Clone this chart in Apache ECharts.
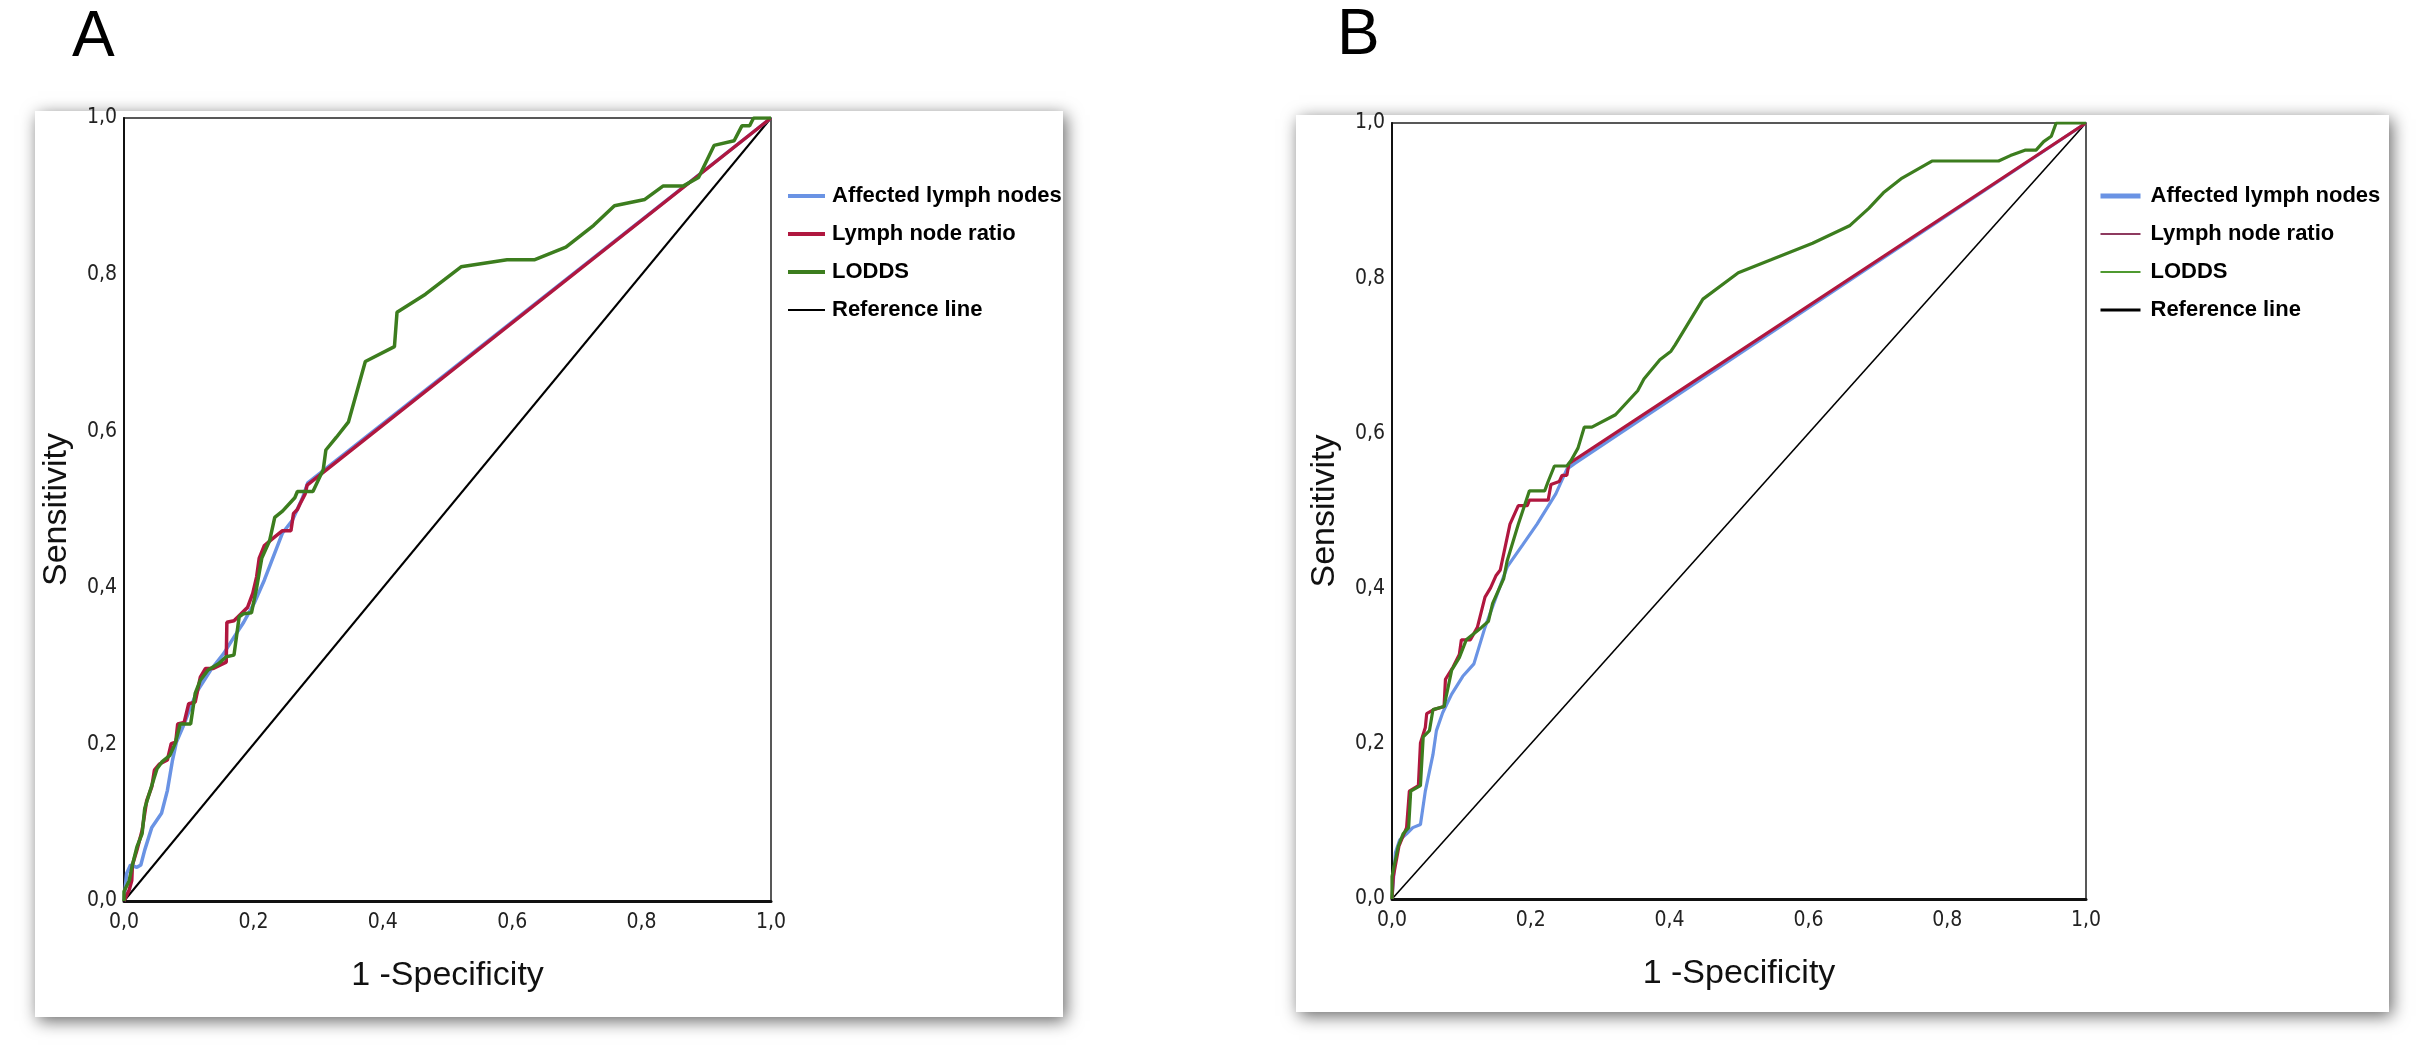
<!DOCTYPE html>
<html>
<head>
<meta charset="utf-8">
<script src="https://cdn.jsdelivr.net/npm/echarts@6/dist/echarts.min.js"></script>
<style>
html,body{margin:0;padding:0;background:#fff;}
#chart{width:2418px;height:1050px;}
</style>
</head>
<body>
<div id="chart"></div>
<script>
// ---------- data ----------
const seriesNames = ['Affected lymph nodes', 'Lymph node ratio', 'LODDS', 'Reference line'];
const tickValues = [0, 0.2, 0.4, 0.6, 0.8, 1.0];
const panelLabels = ['A', 'B'];
const xTitle = '1 -Specificity';
const yTitle = 'Sensitivity';

// Panel A
const aBlue = [[0,0],[0.004,0.035],[0.01,0.046],[0.02,0.043],[0.026,0.046],[0.032,0.065],[0.043,0.094],[0.058,0.112],[0.067,0.141],[0.075,0.18],[0.081,0.203],[0.091,0.222],[0.103,0.248],[0.114,0.269],[0.134,0.295],[0.154,0.316],[0.17,0.337],[0.185,0.356],[0.201,0.38],[0.217,0.41],[0.245,0.47],[0.26,0.486],[0.276,0.515],[0.284,0.534],[1,1]];
const aRed = [[0,0],[0.008,0.014],[0.012,0.026],[0.013,0.046],[0.02,0.065],[0.028,0.09],[0.035,0.128],[0.043,0.146],[0.047,0.167],[0.055,0.175],[0.067,0.18],[0.073,0.201],[0.08,0.203],[0.083,0.226],[0.093,0.228],[0.1,0.252],[0.11,0.254],[0.118,0.286],[0.126,0.297],[0.138,0.297],[0.158,0.305],[0.159,0.356],[0.17,0.358],[0.181,0.367],[0.191,0.375],[0.199,0.393],[0.205,0.414],[0.209,0.438],[0.217,0.454],[0.233,0.465],[0.245,0.473],[0.258,0.473],[0.262,0.495],[0.268,0.5],[0.272,0.507],[0.28,0.52],[0.283,0.531],[1,1]];
const aGreen = [[0,0],[0,0.012],[0.008,0.026],[0.013,0.046],[0.02,0.069],[0.028,0.086],[0.032,0.118],[0.039,0.137],[0.051,0.169],[0.059,0.178],[0.071,0.186],[0.079,0.201],[0.087,0.226],[0.103,0.226],[0.11,0.265],[0.118,0.282],[0.13,0.295],[0.146,0.303],[0.158,0.312],[0.17,0.314],[0.178,0.363],[0.185,0.367],[0.197,0.368],[0.205,0.4],[0.213,0.438],[0.225,0.46],[0.233,0.49],[0.245,0.498],[0.264,0.515],[0.268,0.523],[0.292,0.523],[0.308,0.551],[0.312,0.576],[0.328,0.592],[0.347,0.612],[0.373,0.689],[0.418,0.708],[0.422,0.752],[0.466,0.775],[0.521,0.81],[0.592,0.819],[0.635,0.819],[0.683,0.835],[0.726,0.863],[0.758,0.888],[0.805,0.896],[0.833,0.913],[0.864,0.913],[0.888,0.924],[0.912,0.965],[0.943,0.971],[0.955,0.99],[0.967,0.99],[0.973,1],[1,1]];

// Panel B
const bBlue = [[0,0],[0.005,0.06],[0.011,0.076],[0.021,0.084],[0.03,0.092],[0.041,0.096],[0.048,0.139],[0.059,0.186],[0.064,0.217],[0.073,0.24],[0.086,0.264],[0.102,0.287],[0.118,0.303],[0.134,0.35],[0.15,0.389],[0.166,0.428],[0.188,0.456],[0.209,0.483],[0.236,0.522],[0.252,0.554],[0.263,0.561],[1,1]];
const bRed = [[0,0],[0.002,0.029],[0.01,0.068],[0.021,0.092],[0.025,0.139],[0.038,0.146],[0.041,0.201],[0.048,0.221],[0.05,0.239],[0.06,0.244],[0.075,0.248],[0.077,0.283],[0.088,0.299],[0.097,0.315],[0.1,0.334],[0.113,0.334],[0.123,0.35],[0.134,0.389],[0.142,0.401],[0.15,0.417],[0.156,0.424],[0.17,0.483],[0.182,0.507],[0.195,0.507],[0.198,0.514],[0.225,0.514],[0.229,0.534],[0.241,0.538],[0.245,0.546],[0.252,0.546],[0.255,0.561],[1,1]];
const bGreen = [[0,0],[0,0.029],[0.009,0.068],[0.016,0.084],[0.024,0.092],[0.027,0.139],[0.041,0.146],[0.045,0.209],[0.054,0.217],[0.059,0.244],[0.075,0.248],[0.086,0.295],[0.097,0.311],[0.107,0.334],[0.129,0.35],[0.139,0.358],[0.145,0.381],[0.161,0.413],[0.166,0.436],[0.182,0.483],[0.198,0.526],[0.22,0.526],[0.225,0.538],[0.234,0.558],[0.252,0.558],[0.258,0.565],[0.268,0.581],[0.277,0.608],[0.288,0.608],[0.322,0.624],[0.354,0.655],[0.363,0.67],[0.386,0.695],[0.402,0.706],[0.408,0.714],[0.448,0.773],[0.499,0.807],[0.547,0.824],[0.606,0.845],[0.66,0.868],[0.687,0.89],[0.708,0.91],[0.735,0.929],[0.778,0.951],[0.874,0.951],[0.891,0.958],[0.912,0.965],[0.928,0.965],[0.939,0.976],[0.95,0.983],[0.957,1],[1,1]];

const refLine = [[0,0],[1,1]];

// ---------- styling ----------
const C_BLUE = '#6a93e4', C_RED = '#b0173f', C_GREEN = '#3c7d1e', C_BLACK = '#000000';
const C_RED_B = '#8e3a5f', C_GREEN_B = '#4f9a30';
const tickFont = "'Liberation Sans Narrow','DejaVu Sans Condensed','Liberation Sans',sans-serif";
const mainFont = "'Liberation Sans',Arial,sans-serif";
const fmt = v => v.toFixed(1).replace('.', ',');

const grids = [
  {left: 124, top: 118, width: 647, height: 783},
  {left: 1392, top: 123, width: 694, height: 776}
];

function xAxisFor(i) {
  return {
    gridIndex: i, type: 'value', min: 0, max: 1, interval: 0.2,
    axisLine: {show: true, onZero: false, lineStyle: {color: '#111', width: 3}},
    axisTick: {show: false}, splitLine: {show: false},
    axisLabel: {formatter: fmt, fontSize: 21, fontFamily: tickFont, color: '#222', margin: 11},
    name: xTitle, nameLocation: 'middle', nameGap: 58,
    nameTextStyle: {fontSize: 34, fontFamily: mainFont, color: '#111'}
  };
}
function yAxisFor(i) {
  return {
    gridIndex: i, type: 'value', min: 0, max: 1, interval: 0.2,
    axisLine: {show: true, onZero: false, lineStyle: {color: '#111', width: 2}},
    axisTick: {show: false}, splitLine: {show: false},
    axisLabel: {formatter: fmt, fontSize: 21, fontFamily: tickFont, color: '#222', margin: 7},
    name: yTitle, nameLocation: 'middle', nameGap: 50,
    nameTextStyle: {fontSize: 34, fontFamily: mainFont, color: '#111'}
  };
}
function lineSeries(name, data, gi, color, width, z) {
  return {
    name: name, type: 'line', xAxisIndex: gi, yAxisIndex: gi, data: data,
    symbol: 'none', smooth: false, silent: true, animation: false, z: z,
    lineStyle: {color: color, width: width}, itemStyle: {color: color}
  };
}
function legendItem(name, color, width) {
  return {name: name, lineStyle: {color: color, width: width}, itemStyle: {opacity: 0, color: 'rgba(0,0,0,0)', borderWidth: 0}};
}

const chart = echarts.init(document.getElementById('chart'), null, {renderer: 'canvas'});
const legendText = {fontSize: 22, fontWeight: 'bold', fontFamily: mainFont, color: '#000'};

chart.setOption({
  animation: false,
  backgroundColor: '#ffffff',
  graphic: [
    {type: 'rect', z: -10, shape: {x: 35, y: 111, width: 1028, height: 906},
     style: {fill: '#fff', shadowBlur: 16, shadowColor: 'rgba(0,0,0,0.6)', shadowOffsetX: 3, shadowOffsetY: 4}},
    {type: 'rect', z: -10, shape: {x: 1296, y: 115, width: 1093, height: 897},
     style: {fill: '#fff', shadowBlur: 16, shadowColor: 'rgba(0,0,0,0.6)', shadowOffsetX: 3, shadowOffsetY: 4}},
    {type: 'text', x: 72, y: 38, style: {text: panelLabels[0], fontSize: 64, fontFamily: mainFont, fill: '#000', textVerticalAlign: 'middle'}},
    {type: 'text', x: 1337, y: 36, style: {text: panelLabels[1], fontSize: 64, fontFamily: mainFont, fill: '#000', textVerticalAlign: 'middle'}}
  ],
  grid: grids.map(g => Object.assign({show: true, backgroundColor: '#fff', borderColor: '#222', borderWidth: 1.5, containLabel: false}, g)),
  xAxis: [xAxisFor(0), xAxisFor(1)],
  yAxis: [yAxisFor(0), yAxisFor(1)],
  legend: [
    {
      orient: 'vertical', left: 786, top: 185, padding: 0, itemWidth: 37, itemHeight: 14, itemGap: 16,
      selectedMode: false, textStyle: Object.assign({padding: [0, 0, 0, 2]}, legendText),
      data: [
        legendItem(seriesNames[0], C_BLUE, 4),
        legendItem(seriesNames[1], C_RED, 4),
        legendItem(seriesNames[2], C_GREEN, 4),
        legendItem(seriesNames[3], C_BLACK, 2)
      ]
    },
    {
      orient: 'vertical', left: 2098, top: 185, padding: 0, itemWidth: 40, itemHeight: 14, itemGap: 16,
      selectedMode: false, textStyle: Object.assign({padding: [0, 0, 0, 5]}, legendText),
      data: [
        legendItem(seriesNames[0], C_BLUE, 5),
        legendItem(seriesNames[1], C_RED_B, 2),
        legendItem(seriesNames[2], C_GREEN_B, 2),
        legendItem(seriesNames[3], C_BLACK, 3)
      ]
    }
  ],
  series: [
    lineSeries(seriesNames[3], refLine, 0, C_BLACK, 2, 1),
    lineSeries(seriesNames[0], aBlue, 0, C_BLUE, 3.5, 2),
    lineSeries(seriesNames[1], aRed, 0, C_RED, 3.5, 3),
    lineSeries(seriesNames[2], aGreen, 0, C_GREEN, 3.5, 4),
    lineSeries(seriesNames[3], refLine, 1, C_BLACK, 1.6, 1),
    lineSeries(seriesNames[0], bBlue, 1, C_BLUE, 3.2, 2),
    lineSeries(seriesNames[1], bRed, 1, C_RED, 3.2, 3),
    lineSeries(seriesNames[2], bGreen, 1, C_GREEN, 3.2, 4)
  ]
});
</script>
</body>
</html>
